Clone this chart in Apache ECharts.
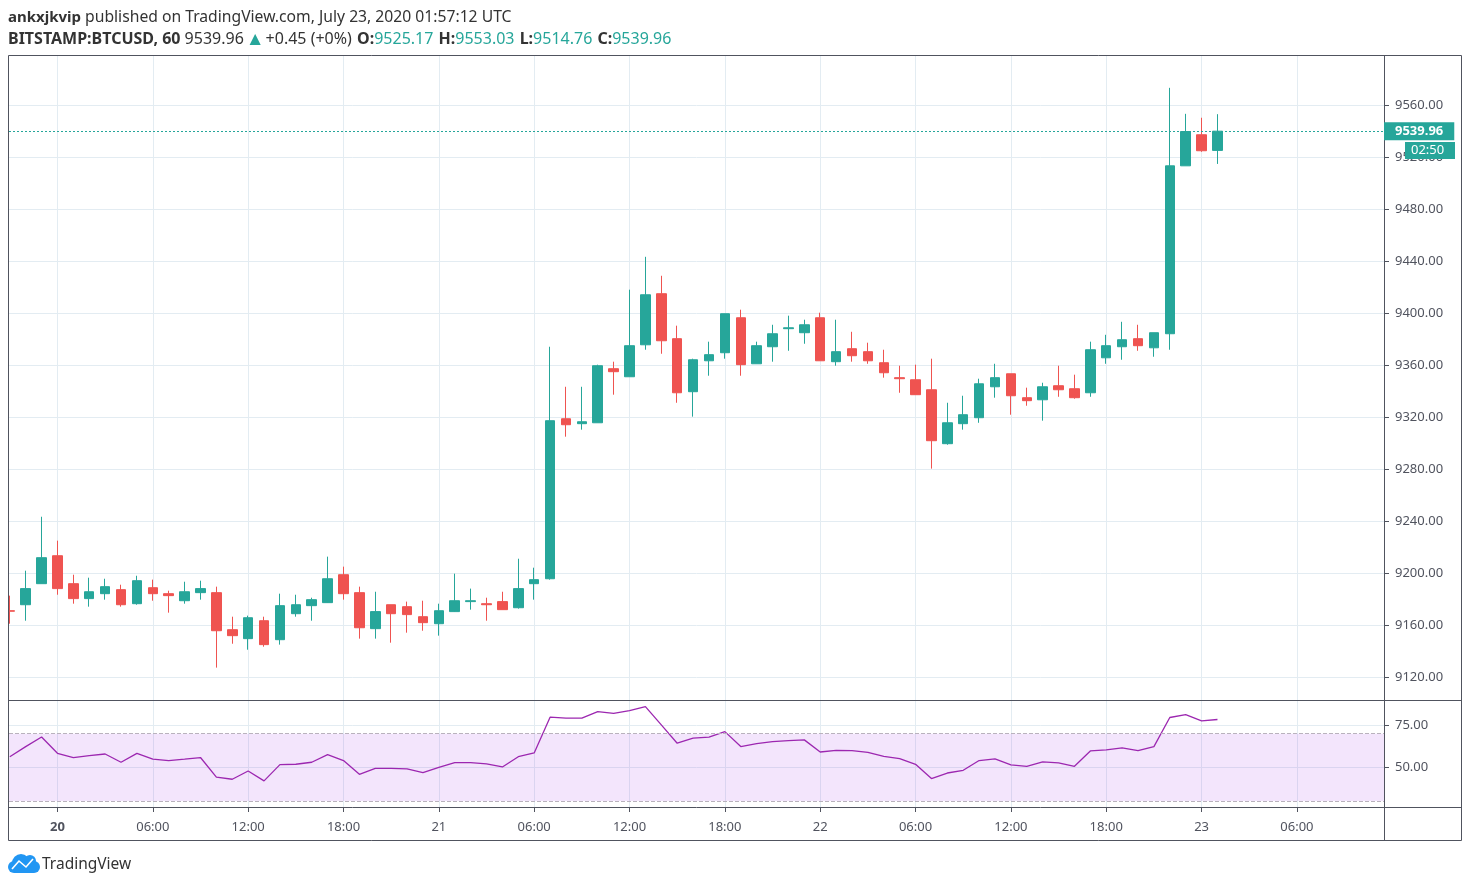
<!DOCTYPE html>
<html>
<head>
<meta charset="utf-8">
<title>BTCUSD</title>
<script src="https://cdn.jsdelivr.net/npm/echarts@6/dist/echarts.min.js"></script>
<style>
    html, body { margin: 0; padding: 0; background: #fff; }
    #chart { width: 1470px; height: 887px; }
</style>
</head>
<body>
<div id="chart"></div>
<script>
// hours since Jul 20 00:00
const hours = [-3, -2, -1, 0, 1, 2, 3, 4, 5, 6, 7, 8, 9, 10, 11, 12, 13, 14, 15, 16, 17, 18, 19, 20, 21, 22, 23, 24, 25, 26, 27, 28, 29, 30, 31, 32, 33, 34, 35, 36, 37, 38, 39, 40, 41, 42, 43, 44, 45, 46, 47, 48, 49, 50, 51, 52, 53, 54, 55, 56, 57, 58, 59, 60, 61, 62, 63, 64, 65, 66, 67, 68, 69, 70, 71, 72, 73];

const opens = [9171, 9175.6, 9191.8, 9213.3, 9191.8, 9180.3, 9184.1, 9187.2, 9176.4, 9188.7, 9184.1, 9178.7, 9184.9, 9184.9, 9156.4, 9149.5, 9163.3, 9148.7, 9168.7, 9174.9, 9177.2, 9198.7, 9184.9, 9157.2, 9175.6, 9174.1, 9166.4, 9161, 9170.3, 9178, 9176.4, 9178, 9173.3, 9191.8, 9195.6, 9318.7, 9314.9, 9315.6, 9357.2, 9351, 9375.6, 9414.9, 9380.3, 9339.5, 9363.3, 9369.5, 9396.4, 9361, 9374.1, 9388, 9384.9, 9396.4, 9362.6, 9372.6, 9370.3, 9361.8, 9350.3, 9348.7, 9341, 9299.5, 9314.9, 9319.5, 9343.3, 9353.3, 9334.9, 9333.3, 9344.1, 9341.8, 9338.7, 9365.6, 9374.1, 9380.3, 9373.3, 9384.1, 9513.3, 9537.2, 9525.17];
const closes = [9170.6, 9188, 9211.8, 9188, 9180.3, 9185.6, 9189.5, 9175.6, 9194.1, 9184.1, 9182.6, 9185.6, 9188, 9155.6, 9151.8, 9165.6, 9144.9, 9174.9, 9175.6, 9179.5, 9195.6, 9184.1, 9157.9, 9170.3, 9168.7, 9168, 9161.8, 9171, 9178.7, 9178.7, 9175.6, 9171.8, 9188, 9194.9, 9317.2, 9314.1, 9316.4, 9359.5, 9354.9, 9374.9, 9414.1, 9378.7, 9338.7, 9364.1, 9368, 9399.5, 9360.3, 9374.9, 9384.1, 9388.7, 9391, 9363.3, 9370.3, 9367.2, 9363.3, 9354.1, 9349.5, 9337.2, 9301.8, 9315.6, 9321.8, 9345.6, 9350.3, 9336.4, 9332.6, 9343.3, 9341, 9334.9, 9371.8, 9374.9, 9379.5, 9374.9, 9384.9, 9513.3, 9539.7, 9524.9, 9539.96];
const highs = [9182.6, 9201.8, 9243.3, 9224.9, 9198.7, 9196.4, 9195.6, 9191, 9197.9, 9194.9, 9186.4, 9193.3, 9194.1, 9189.5, 9166.4, 9167.2, 9166.4, 9184.1, 9183.3, 9181, 9212.6, 9204.9, 9189.5, 9185.6, 9175.6, 9178, 9178.7, 9176.4, 9199.5, 9188, 9181, 9185.6, 9211, 9204.1, 9374.1, 9343.3, 9343.3, 9360.3, 9362.6, 9418, 9443.3, 9428.7, 9390.3, 9364.9, 9378, 9399.5, 9402.6, 9378, 9391, 9398, 9394.9, 9400.3, 9394.9, 9385.6, 9377.2, 9371.8, 9359.5, 9360.3, 9364.9, 9331, 9336.4, 9349.5, 9361, 9353.3, 9342.6, 9346.4, 9359.5, 9352.6, 9378, 9383.3, 9393.3, 9391, 9384.9, 9573.3, 9553.3, 9550.3, 9553.03];
const lows = [9161, 9163.3, 9191.8, 9183.3, 9176.4, 9174.1, 9179.5, 9174.1, 9175.6, 9178.7, 9169.5, 9176.4, 9179.5, 9127.2, 9145.6, 9141, 9143.3, 9144.9, 9166.4, 9163.3, 9177, 9179.5, 9149.5, 9149.5, 9146.4, 9154.1, 9155.6, 9151.8, 9170, 9171.8, 9163.3, 9171.8, 9172.6, 9179.5, 9194.9, 9304.9, 9310.3, 9315.6, 9337.2, 9351, 9371.8, 9368.7, 9331, 9320.3, 9351.8, 9364.9, 9351.8, 9361, 9362.6, 9371, 9376.4, 9363.3, 9359.5, 9362.6, 9361, 9350.3, 9338.7, 9337.2, 9280.3, 9298.7, 9310.3, 9315.6, 9334.9, 9321.8, 9328.7, 9317.2, 9335.6, 9334.1, 9335.6, 9361, 9364.1, 9371, 9366.4, 9371.8, 9513.3, 9524.1, 9514.76];
const rsiValues = [56.3, 62.3, 68, 58.3, 55.8, 56.9, 57.9, 53, 58.3, 54.8, 54, 54.8, 55.8, 44.2, 42.9, 47.8, 41.9, 51.6, 51.8, 53, 57.5, 54, 45.8, 49.4, 49.4, 49, 46.8, 50, 52.8, 52.8, 52, 50.2, 56.3, 58.5, 79.8, 79.2, 79.2, 83.1, 82.1, 83.7, 86.1, 75.2, 64.3, 67.3, 67.9, 71.2, 62.3, 64.1, 65.3, 65.9, 66.3, 59.1, 60.1, 59.9, 58.9, 56.5, 55.2, 51.8, 43.3, 46.6, 48.2, 54, 55, 51.4, 50.6, 53.2, 52.6, 50.6, 59.7, 60.3, 61.5, 59.9, 62.3, 79.6, 81.3, 77.6, 78.4];

const timeTicks = [0, 6, 12, 18, 24, 30, 36, 42, 48, 54, 60, 66, 72, 78];
const timeLabels = ['20', '06:00', '12:00', '18:00', '21', '06:00', '12:00', '18:00', '22', '06:00', '12:00', '18:00', '23', '06:00'];
const priceTicks = [9120, 9160, 9200, 9240, 9280, 9320, 9360, 9400, 9440, 9480, 9520, 9560];
const rsiTicks = [50, 75];
const rsiBand = [70, 30];
const lastPrice = 9539.96;
const countdown = '02:50';

const UP = '#26a69a';
const DOWN = '#ef5350';
const GRID = '#e3ecf2';
const FRAME = '#50535e';
const TEXT = '#50535e';
const FONT = '"Noto Sans", sans-serif';

const chart = echarts.init(document.getElementById('chart'), null, { renderer: 'canvas' });

const candleData = hours.map((h, i) => [h, opens[i], closes[i], lows[i], highs[i]]);
const rsiData = hours.map((h, i) => [h, rsiValues[i]]);

function sharedX(gridIndex, withLabels) {
    return {
        type: 'value',
        gridIndex: gridIndex,
        min: -3.05,
        max: 83.48,
        axisLine: { show: withLabels, onZero: false, lineStyle: { color: FRAME } },
        axisTick: { show: withLabels, length: 5, customValues: timeTicks, lineStyle: { color: FRAME } },
        axisLabel: {
            show: withLabels,
            customValues: timeTicks,
            margin: 14,
            color: TEXT,
            fontFamily: FONT,
            fontSize: 13,
            formatter: function (v) {
                const label = timeLabels[timeTicks.indexOf(v)];
                return v === 0 ? '{b|' + label + '}' : label;
            },
            rich: { b: { fontWeight: 'bold', color: TEXT, fontFamily: FONT, fontSize: 13 } }
        },
        splitLine: { show: true, lineStyle: { color: GRID, width: 1 } }
    };
}

function sharedY(gridIndex, ticks, min, max) {
    return {
        type: 'value',
        gridIndex: gridIndex,
        position: 'right',
        min: min,
        max: max,
        axisLine: { show: true, onZero: false, lineStyle: { color: FRAME } },
        axisTick: { show: true, length: 5, customValues: ticks, lineStyle: { color: FRAME } },
        axisLabel: {
            customValues: ticks,
            margin: 11,
            padding: [2, 0, 0, 0],
            color: TEXT,
            fontFamily: FONT,
            fontSize: 13,
            formatter: function (v) { return v.toFixed(2); }
        },
        splitLine: { show: true, lineStyle: { color: GRID, width: 1 } }
    };
}

const option = {
    animation: false,
    backgroundColor: '#fff',
    grid: [
        { left: 9, top: 56, width: 1375, height: 644 },
        { left: 9, top: 701, width: 1375, height: 106 }
    ],
    xAxis: [sharedX(0, false), sharedX(1, true)],
    yAxis: [sharedY(0, priceTicks, 9102.3, 9597.8), sharedY(1, rsiTicks, 26.4, 89.4)],
    series: [
        {
            name: 'BTCUSD',
            type: 'candlestick',
            xAxisIndex: 0,
            yAxisIndex: 0,
            barWidth: 10,
            data: candleData,
            itemStyle: { color: UP, color0: DOWN, borderColor: UP, borderColor0: DOWN, borderWidth: 1 },
            markLine: {
                silent: true,
                symbol: 'none',
                animation: false,
                lineStyle: { color: UP, type: [2, 2], width: 1 },
                label: {
                    show: true,
                    position: 'end',
                    distance: 0,
                    formatter: lastPrice.toFixed(2),
                    backgroundColor: UP,
                    color: '#fff',
                    fontFamily: FONT,
                    fontSize: 13,
                    fontWeight: 'bold',
                    padding: [3, 11, 2, 11]
                },
                data: [{ yAxis: lastPrice }]
            }
        },
        {
            name: 'RSI',
            type: 'line',
            xAxisIndex: 1,
            yAxisIndex: 1,
            data: rsiData,
            showSymbol: false,
            lineStyle: { color: '#9c27b0', width: 1.3 },
            markArea: {
                silent: true,
                itemStyle: { color: 'rgba(156, 39, 230, 0.12)' },
                data: [[{ yAxis: rsiBand[0] }, { yAxis: rsiBand[1] }]]
            },
            markLine: {
                silent: true,
                symbol: 'none',
                animation: false,
                label: { show: false },
                lineStyle: { color: '#b9b2bd', type: 'dashed', width: 1 },
                data: rsiBand.map(v => ({ yAxis: v }))
            }
        }
    ],
    graphic: [
        // hides the half of the first candle that falls left of the pane
        { type: 'rect', z: 40, silent: true, shape: { x: 0, y: 56, width: 8.5, height: 645 }, style: { fill: '#fff' } },
        // outer frame and the divider under the price scale
        { type: 'rect', z: 50, silent: true, shape: { x: 8.5, y: 55.5, width: 1453, height: 785 }, style: { fill: null, stroke: FRAME, lineWidth: 1 } },
        { type: 'line', z: 50, silent: true, shape: { x1: 1384.5, y1: 807, x2: 1384.5, y2: 840 }, style: { stroke: FRAME, lineWidth: 1 } },
        { type: 'line', z: 50, silent: true, shape: { x1: 9, y1: 700.5, x2: 1461, y2: 700.5 }, style: { stroke: FRAME, lineWidth: 1 } },
        { type: 'line', z: 50, silent: true, shape: { x1: 1384, y1: 807.5, x2: 1461, y2: 807.5 }, style: { stroke: FRAME, lineWidth: 1 } },
        // countdown tag
        { type: 'rect', z: 100, silent: true, shape: { x: 1405, y: 142, width: 50, height: 17 }, style: { fill: UP } },
        { type: 'text', z: 101, silent: true, x: 1411, y: 144, style: { text: countdown, fill: '#fff', font: '13px ' + FONT } },
        // header
        {
            type: 'text', silent: true, x: 8, y: 10,
            style: {
                text: '{b|ankxjkvip} published on TradingView.com, July 23, 2020 01:57:12 UTC',
                fill: '#333',
                font: '15.7px ' + FONT,
                rich: { b: { fill: '#333', font: 'bold 15px ' + FONT } }
            }
        },
        {
            type: 'text', silent: true, x: 8, y: 30,
            style: {
                text: '{n|BITSTAMP:BTCUSD, 60} 9539.96{t|▲}+0.45 (+0%) {b|O:}{g|9525.17} {b|H:}{g|9553.03} {b|L:}{g|9514.76} {b|C:}{g|9539.96}',
                fill: '#333',
                font: '16px ' + FONT,
                rich: {
                    n: { fill: '#333', font: 'bold 16px ' + FONT },
                    b: { fill: '#333', font: 'bold 16px ' + FONT, padding: [0, 0, 0, 1] },
                    g: { fill: UP, font: '16px ' + FONT },
                    t: { fill: UP, font: '19px ' + FONT, padding: [0, 1, 0, 2] }
                }
            }
        },
        // logo, a cloud built from plain shapes
        { type: 'circle', silent: true, shape: { cx: 14, cy: 867, r: 6 }, style: { fill: '#2196f3' } },
        { type: 'circle', silent: true, shape: { cx: 21, cy: 863, r: 9 }, style: { fill: '#2196f3' } },
        { type: 'circle', silent: true, shape: { cx: 30, cy: 861, r: 6 }, style: { fill: '#2196f3' } },
        { type: 'circle', silent: true, shape: { cx: 34, cy: 867, r: 6 }, style: { fill: '#2196f3' } },
        { type: 'rect', silent: true, shape: { x: 14, y: 866, width: 20, height: 7 }, style: { fill: '#2196f3' } },
        { type: 'polyline', silent: true, shape: { points: [[12, 869], [19, 861], [26, 867], [33, 859]] }, style: { stroke: '#fff', fill: null, lineWidth: 1.6 } },
        { type: 'text', silent: true, x: 42, y: 857, style: { text: 'TradingView', fill: '#333', font: '15.5px ' + FONT } }
    ]
};

chart.setOption(option);
</script>
</body>
</html>
